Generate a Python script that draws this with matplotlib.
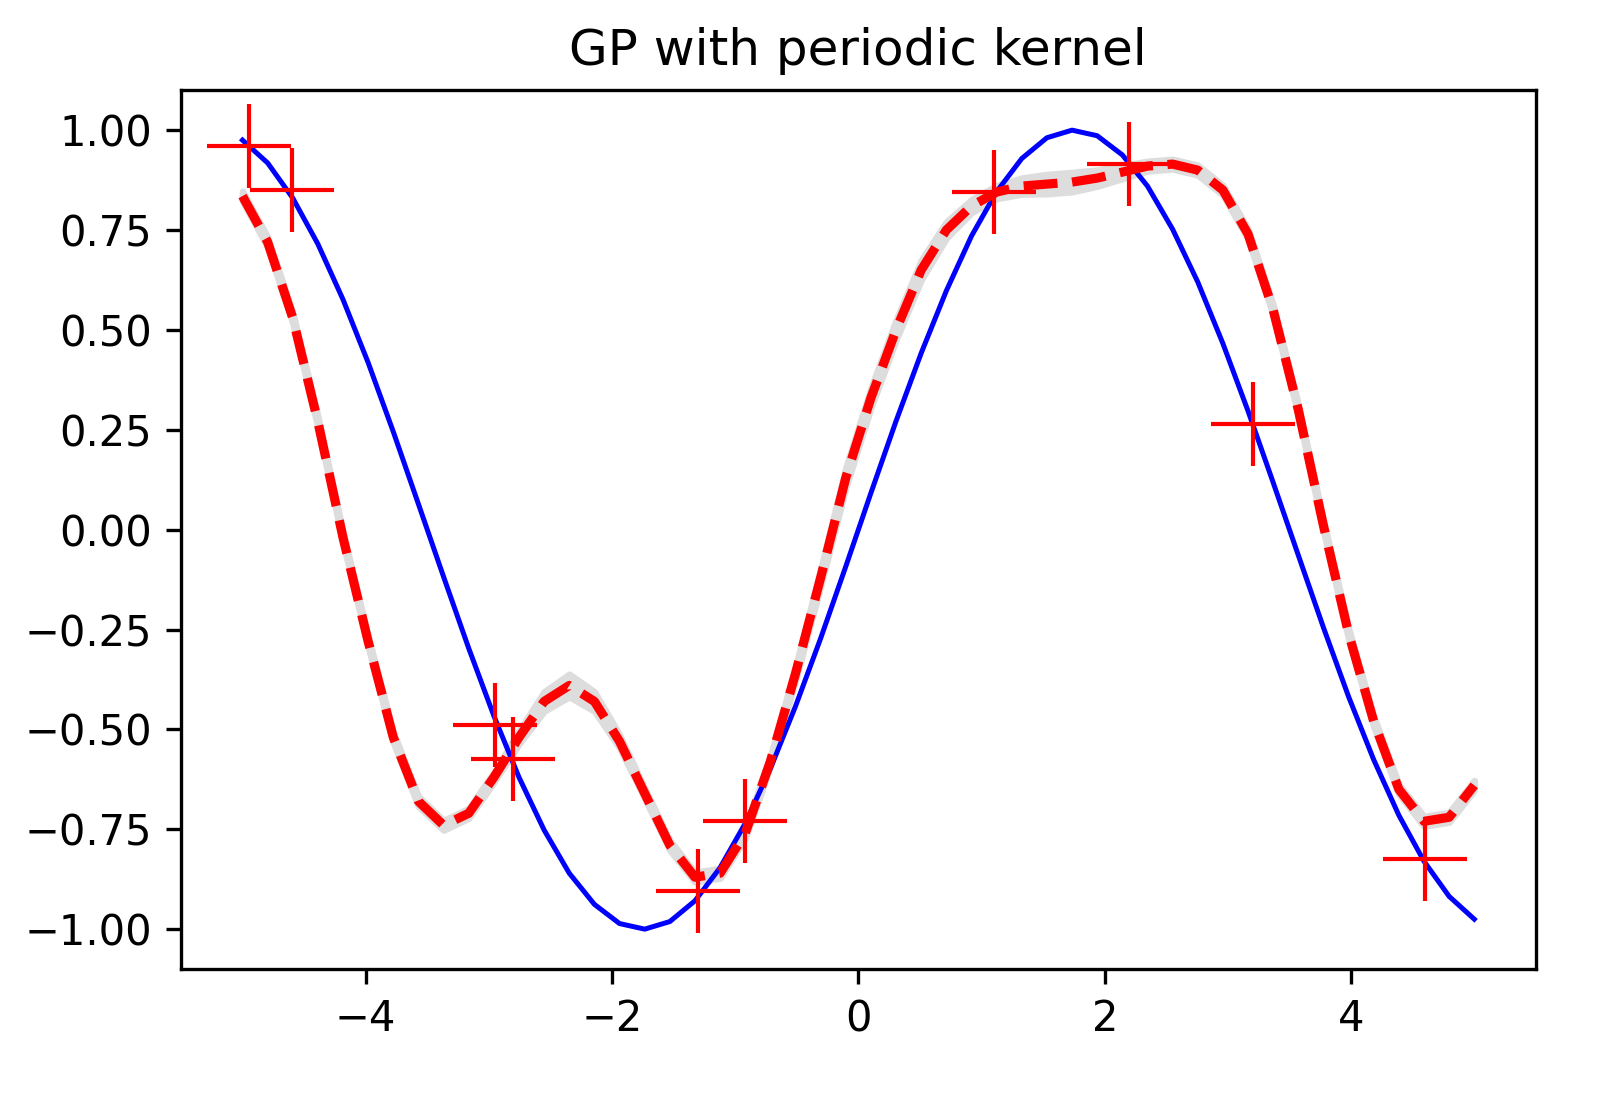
import numpy as np
import matplotlib
matplotlib.use("Agg")
import matplotlib.pyplot as plt

# grid used by both curves
x_grid = np.linspace(-5, 5, 50)

true_y = [0.975, 0.918, 0.830, 0.715, 0.576, 0.418, 0.245, 0.064, -0.118, -0.297,
          -0.466, -0.620, -0.752, -0.860, -0.938, -0.986, -1.000, -0.981, -0.929, -0.846,
          -0.735, -0.598, -0.442, -0.272, -0.092, 0.092, 0.272, 0.442, 0.598, 0.735,
          0.846, 0.929, 0.981, 1.000, 0.986, 0.938, 0.860, 0.752, 0.620, 0.466,
          0.297, 0.118, -0.064, -0.245, -0.418, -0.576, -0.715, -0.830, -0.918, -0.975]

mean_y = [0.835, 0.72, 0.53, 0.27, -0.02, -0.28, -0.52, -0.68, -0.74, -0.71,
          -0.62, -0.52, -0.43, -0.39, -0.43, -0.53, -0.66, -0.79, -0.87, -0.86,
          -0.76, -0.58, -0.36, -0.12, 0.13, 0.33, 0.50, 0.65, 0.75, 0.81,
          0.845, 0.86, 0.865, 0.87, 0.88, 0.895, 0.91, 0.915, 0.90, 0.85,
          0.74, 0.55, 0.30, 0.01, -0.26, -0.48, -0.65, -0.73, -0.72, -0.64]

std_y = [0.006, 0.006, 0.006, 0.006, 0.006, 0.006, 0.006, 0.006, 0.006, 0.006,
         0.006, 0.008, 0.012, 0.014, 0.012, 0.008, 0.006, 0.006, 0.006, 0.006,
         0.006, 0.006, 0.008, 0.010, 0.012, 0.012, 0.012, 0.012, 0.010, 0.008,
         0.008, 0.010, 0.012, 0.012, 0.010, 0.008, 0.006, 0.006, 0.006, 0.006,
         0.006, 0.006, 0.006, 0.006, 0.006, 0.006, 0.006, 0.006, 0.006, 0.006]

obs_x = [-4.95, -4.6, -2.95, -2.8, -1.3, -0.92, 1.1, 2.2, 3.2, 4.6]
obs_y = [0.96, 0.85, -0.49, -0.575, -0.905, -0.73, 0.845, 0.915, 0.265, -0.825]

fig = plt.figure(figsize=(1615 / 300, 1100 / 300), dpi=300)
ax = fig.add_axes([0.112, 0.119, 0.839, 0.799])

mean = np.array(mean_y)
std = np.array(std_y)
ax.fill_between(x_grid, mean - 2 * std, mean + 2 * std, color="#dddddd",
                lw=1.6, edgecolor="#dddddd")
ax.plot(x_grid, true_y, color="blue", lw=1.2)
ax.plot(x_grid, mean_y, color="red", ls="--", lw=2.2)
ax.plot(obs_x, obs_y, "r+", ms=20, mew=1.0)

ax.set_xlim(-5.5, 5.5)
ax.set_ylim(-1.1, 1.1)
ax.set_yticks([-1.0, -0.75, -0.5, -0.25, 0.0, 0.25, 0.5, 0.75, 1.0])
ax.set_yticklabels(["\u22121.00", "\u22120.75", "\u22120.50", "\u22120.25", "0.00",
                    "0.25", "0.50", "0.75", "1.00"])
ax.set_xticks([-4, -2, 0, 2, 4])
ax.set_title("GP with periodic kernel")

fig.savefig("out.png", dpi=300)
